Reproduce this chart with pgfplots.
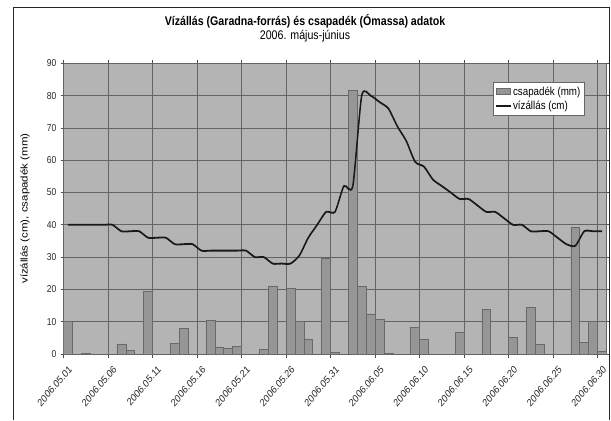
\documentclass[border=0pt]{standalone}
\usepackage{graphicx}
\usepackage{fontspec}
\setmainfont{Liberation Sans}
\usepackage{pgfplots}
\pgfplotsset{compat=1.18}
\definecolor{bgc}{RGB}{180,180,180}
\definecolor{barc}{RGB}{150,150,150}
\definecolor{bard}{RGB}{105,105,105}
\definecolor{gridc}{RGB}{100,100,100}
\begin{document}
\scalebox{0.85}[1]{%
\begin{tikzpicture}
\path[use as bounding box] (0pt,0pt) rectangle (718.8pt,420pt);
\draw[black!85, line width=0.9pt] (15.3pt,0pt) -- (15.3pt,413pt) -- (716.8pt,413pt) -- (716.8pt,0pt);
\begin{axis}[
  at={(74.7pt,66pt)}, anchor=south west,
  width=638.8pt, height=290.7pt, scale only axis,
  xmin=-0.5, xmax=60.5, ymin=0, ymax=90,
  axis background/.style={fill=bgc},
  xtick={-0.5,4.5,9.5,14.5,19.5,24.5,29.5,34.5,39.5,44.5,49.5,54.5,59.5},
  xticklabels={2006.05.01,2006.05.06,2006.05.11,2006.05.16,2006.05.21,2006.05.26,2006.05.31,2006.06.05,2006.06.10,2006.06.15,2006.06.20,2006.06.25,2006.06.30},
  ytick={0,10,...,90},
  grid=major,
  grid style={color=gridc, line width=0.8pt},
  axis line style={color=gridc, line width=0.8pt},
  tick align=outside,
  major tick length=3.5pt,
  tick style={color=black!70, line width=0.7pt},
  /pgf/number format/assume math mode=true,
  ticklabel style={text=black!85},
  xticklabel style={font=\fontsize{10.5}{12}\selectfont, rotate=45, anchor=north east, inner sep=1pt, yshift=-8pt},
  yticklabel style={font=\fontsize{10}{12}\selectfont, xshift=-1.5pt},
  ylabel={vízállás (cm), csapadék (mm)},
  ylabel style={at={(-0.0709,0.5)}, anchor=center, font=\fontsize{11.5}{13}\selectfont},
  title={\textbf{Vízállás (Garadna-forrás) és csapadék (Ómassa) adatok}\\2006. május-június},
  title style={at={(0.4448,1.1001)}, anchor=center, yshift=0pt, align=center, font=\fontsize{12.5}{13.5}\selectfont},
  legend style={at={(0.791,0.9357)}, anchor=north west, draw=black!60, fill=white,
    font=\fontsize{11.5}{13}\selectfont, inner sep=2.5pt, row sep=0pt},
  legend cell align=left,
]
\addplot[ybar, bar width=1, fill=barc, draw=bard, line width=0.7pt, area legend] coordinates {
(0,10) (2,0.3) (6,3.1) (7,1) (9,19.5) (12,3.3) (13,7.8) (16,10.3) (17,2.2) (18,1.7) (19,2.4)
(22,1.5) (23,21.1) (25,20.4) (26,10.2) (27,4.4) (29,29.7) (30,0.5) (32,81.5) (33,21) (34,12.4)
(35,10.6) (36,0.2) (39,8.2) (40,4.4) (44,6.6) (47,13.9) (50,5.1) (52,14.3) (53,2.9) (57,39.1)
(58,3.5) (59,10.2) (60,0.9)
};
\addplot[black!90, line width=1.8pt, smooth, tension=0.4, mark=none] coordinates {
(0,40) (1,40) (2,40) (3,40) (4,40) (5,40) (6,38) (7,38) (8,38) (9,36) (10,36) (11,36)
(12,34) (13,34) (14,34) (15,32) (16,32) (17,32) (18,32) (19,32) (20,32) (21,30) (22,30)
(23,28) (24,28) (25,28) (26,30.5) (27,36) (28,40) (29,44) (30,44) (31,52) (32,52) (33,80)
(34,80) (35,78) (36,76) (37,70.5) (38,66) (39,59.5) (40,58) (41,54) (42,52) (43,50) (44,48)
(45,48) (46,46) (47,44) (48,44) (49,42) (50,40) (51,40) (52,38) (53,38) (54,38) (55,36)
(56,34) (57,33.5) (58,38) (59,38) (60,38)
};
\legend{csapadék (mm), vízállás (cm)}
\end{axis}
\end{tikzpicture}}
\end{document}
